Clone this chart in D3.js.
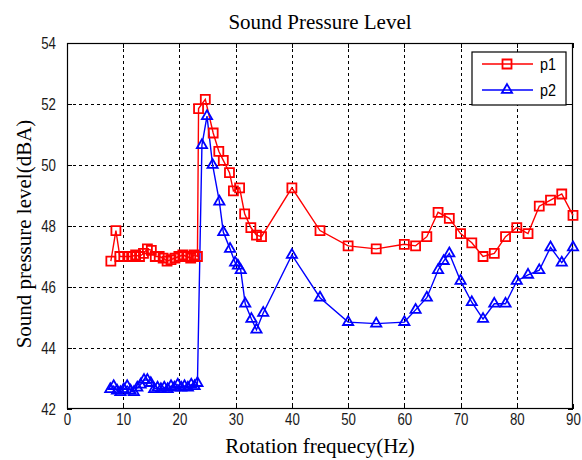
<!DOCTYPE html>
<html>
<head>
<meta charset="utf-8">
<script src="https://cdn.jsdelivr.net/npm/d3@7"></script>
<style>
body { margin: 0; background: #fff; }
.tick text { font-family: 'Liberation Sans', Arial, sans-serif; font-size: 17px; fill: #1a1a1a; }
.label { font-family: 'Liberation Serif', 'Times New Roman', serif; font-size: 21px; fill: #000; }
</style>
</head>
<body>
<div id="chart"></div>
<script>
// p1 (red squares)
var p1Freq = [7.8, 8.7, 9.4, 10.1, 10.8, 11.5, 12.2, 12.9, 13.6, 14.3, 15.0, 15.7, 16.4, 17.1, 17.8, 18.5, 19.2, 19.9, 20.6, 21.3, 22.0, 22.6, 23.2,
    23.4, 24.6, 26.0, 27.0, 27.8, 28.9, 29.6, 30.7, 31.6, 32.7, 33.7, 34.6,
    40, 45, 50, 55, 60, 62, 64, 66, 68, 70, 72, 74, 76, 78, 80, 82, 84, 86, 88, 90];
var p1Level = [46.85, 47.85, 47.0, 47.0, 47.0, 47.0, 47.05, 47.0, 47.1, 47.25, 47.2, 47.0, 47.0, 46.95, 46.85, 46.9, 46.95, 47.0, 47.05, 47.0, 46.95, 47.05, 47.0,
    51.85, 52.15, 51.05, 50.45, 50.15, 49.75, 49.15, 49.25, 48.4, 47.95, 47.7, 47.65,
    49.25, 47.85, 47.35, 47.25, 47.4, 47.35, 47.65, 48.45, 48.25, 47.75, 47.45, 47.0, 47.1, 47.65, 47.95, 47.75, 48.65, 48.85, 49.05, 48.35];

// p2 (blue triangles)
var p2Freq = [7.7, 8.3, 8.9, 9.5, 10.1, 10.7, 11.3, 11.9, 12.5, 13.1, 13.7, 14.3, 14.9, 15.5, 16.1, 16.7, 17.3, 17.9, 18.5, 19.1, 19.7, 20.3, 20.9, 21.5, 22.1, 22.7, 23.2,
    24.0, 24.9, 25.9, 27.1, 27.8, 29.0, 29.9, 30.4, 30.9, 31.7, 32.8, 33.7, 34.9,
    40, 45, 50, 55, 60, 62, 64, 66, 67, 68, 70, 72, 74, 76, 78, 80, 82, 84, 86, 88, 90];
var p2Level = [42.65, 42.75, 42.6, 42.55, 42.65, 42.75, 42.6, 42.55, 42.7, 42.8, 42.95, 42.95, 42.85, 42.65, 42.7, 42.65, 42.7, 42.65, 42.75, 42.7, 42.8, 42.7, 42.75, 42.7, 42.8, 42.75, 42.85,
    50.65, 51.6, 50.0, 48.8, 47.8, 47.25, 46.8, 46.7, 46.55, 45.45, 44.95, 44.6, 45.15,
    47.05, 45.65, 44.85, 44.8, 44.85, 45.25, 45.65, 46.55, 46.85, 47.1, 46.2, 45.5, 44.95, 45.45, 45.45, 46.2, 46.4, 46.55, 47.3, 46.8, 47.3];

var xTicks = [0, 10, 20, 30, 40, 50, 60, 70, 80, 90];
var yTicks = [42, 44, 46, 48, 50, 52, 54];
var seriesNames = ['p1', 'p2'];

var margin = { top: 43, left: 67, bottom: 51, right: 9 },
    width = 582 - margin.left - margin.right,
    height = 460 - margin.top - margin.bottom;

var svg = d3.select('#chart').append('svg')
    .attr('width', 582)
    .attr('height', 460)
    .append('g')
    .attr('transform', 'translate(' + margin.left + ',' + margin.top + ')');

var x = d3.scaleLinear().domain([0, 90]).range([0, width]);
var y = d3.scaleLinear().domain([42, 54]).range([height, 0]);

var p1 = p1Freq.map((f, i) => ({ x: f, y: p1Level[i] }));
var p2 = p2Freq.map((f, i) => ({ x: f, y: p2Level[i] }));

// grid
svg.append('g').selectAll('line')
    .data(xTicks.slice(1, -1))
    .enter().append('line')
    .attr('x1', d => Math.round(x(d)) + 0.5).attr('x2', d => Math.round(x(d)) + 0.5)
    .attr('y1', 0).attr('y2', height)
    .attr('stroke', '#000').attr('stroke-dasharray', '3,3')
    .attr('shape-rendering', 'crispEdges');
svg.append('g').selectAll('line')
    .data(yTicks.slice(1, -1))
    .enter().append('line')
    .attr('y1', d => Math.round(y(d)) + 0.5).attr('y2', d => Math.round(y(d)) + 0.5)
    .attr('x1', 0).attr('x2', width)
    .attr('stroke', '#000').attr('stroke-dasharray', '3,3')
    .attr('shape-rendering', 'crispEdges');

// axes (ticks inward)
var xAxis = d3.axisBottom(x).tickValues(xTicks).tickSizeInner(-5).tickSizeOuter(0).tickPadding(4);
var yAxis = d3.axisLeft(y).tickValues(yTicks).tickSizeInner(-5).tickSizeOuter(0).tickPadding(11);

svg.append('g').attr('transform', 'translate(0,' + height + ')').call(xAxis);
svg.append('g').call(yAxis);
svg.append('g').call(d3.axisTop(x).tickValues(xTicks).tickSizeInner(-5).tickSizeOuter(0).tickFormat(''));
svg.append('g').attr('transform', 'translate(' + width + ',0)')
    .call(d3.axisRight(y).tickValues(yTicks).tickSizeInner(-5).tickSizeOuter(0).tickFormat(''));
svg.selectAll('.domain').remove();
svg.selectAll('.tick line').attr('stroke', '#000').attr('shape-rendering', 'crispEdges');

// narrow tick digits like the original
svg.selectAll('.tick text').each(function () {
    var w = this.getComputedTextLength();
    d3.select(this).attr('textLength', w * 0.78).attr('lengthAdjust', 'spacingAndGlyphs');
});

svg.append('rect')
    .attr('x', 0.5).attr('y', 0.5)
    .attr('width', width - 1).attr('height', height - 1)
    .attr('fill', 'none').attr('stroke', '#000').attr('stroke-width', 1.2);

// lines
var line = d3.line().x(d => x(d.x)).y(d => y(d.y));

svg.append('path').datum(p1)
    .attr('d', line).attr('fill', 'none')
    .attr('stroke', '#ff0000').attr('stroke-width', 1.4);
svg.append('path').datum(p2)
    .attr('d', line).attr('fill', 'none')
    .attr('stroke', '#0000ff').attr('stroke-width', 1.4);

var square = d3.symbol().type(d3.symbolSquare).size(81);
var triangle = d3.symbol().type(d3.symbolTriangle).size(45);

svg.selectAll('.p1')
    .data(p1).enter().append('path')
    .attr('class', 'p1')
    .attr('d', square)
    .attr('transform', d => 'translate(' + x(d.x) + ',' + y(d.y) + ')')
    .attr('fill', 'none').attr('stroke', '#ff0000').attr('stroke-width', 1.8);

svg.selectAll('.p2')
    .data(p2).enter().append('path')
    .attr('class', 'p2')
    .attr('d', triangle)
    .attr('transform', d => 'translate(' + x(d.x) + ',' + y(d.y) + ')')
    .attr('fill', 'none').attr('stroke', '#0000ff').attr('stroke-width', 1.8);

// legend
var legend = svg.append('g').attr('transform', 'translate(' + (472 - margin.left) + ',' + (52 - margin.top) + ')');
legend.append('rect')
    .attr('width', 94).attr('height', 53)
    .attr('fill', '#fff').attr('stroke', '#000').attr('stroke-width', 1.2);
var colors = ['#ff0000', '#0000ff'];
var symbols = [square, triangle];
seriesNames.forEach((name, i) => {
    var ly = 12 + i * 26;
    legend.append('line')
        .attr('x1', 10).attr('x2', 61).attr('y1', ly).attr('y2', ly)
        .attr('stroke', colors[i]).attr('stroke-width', 1.5);
    legend.append('path')
        .attr('d', symbols[i])
        .attr('transform', 'translate(35,' + ly + ')')
        .attr('fill', 'none').attr('stroke', colors[i]).attr('stroke-width', 1.8);
    legend.append('text')
        .attr('x', 68).attr('y', ly + 6)
        .style('font-family', "'Liberation Sans', Arial, sans-serif")
        .style('font-size', '17px')
        .attr('textLength', 16).attr('lengthAdjust', 'spacingAndGlyphs')
        .text(name);
});

// labels
svg.append('text')
    .attr('class', 'label')
    .attr('x', width / 2).attr('y', -14)
    .attr('text-anchor', 'middle')
    .text('Sound Pressure Level');

svg.append('text')
    .attr('class', 'label')
    .attr('x', width / 2).attr('y', height + 44)
    .attr('text-anchor', 'middle')
    .text('Rotation frequecy(Hz)');

svg.append('text')
    .attr('class', 'label')
    .attr('transform', 'rotate(-90)')
    .attr('x', -height / 2 - 8).attr('y', -36)
    .attr('text-anchor', 'middle')
    .text('Sound pressure level(dBA)');
</script>
</body>
</html>
